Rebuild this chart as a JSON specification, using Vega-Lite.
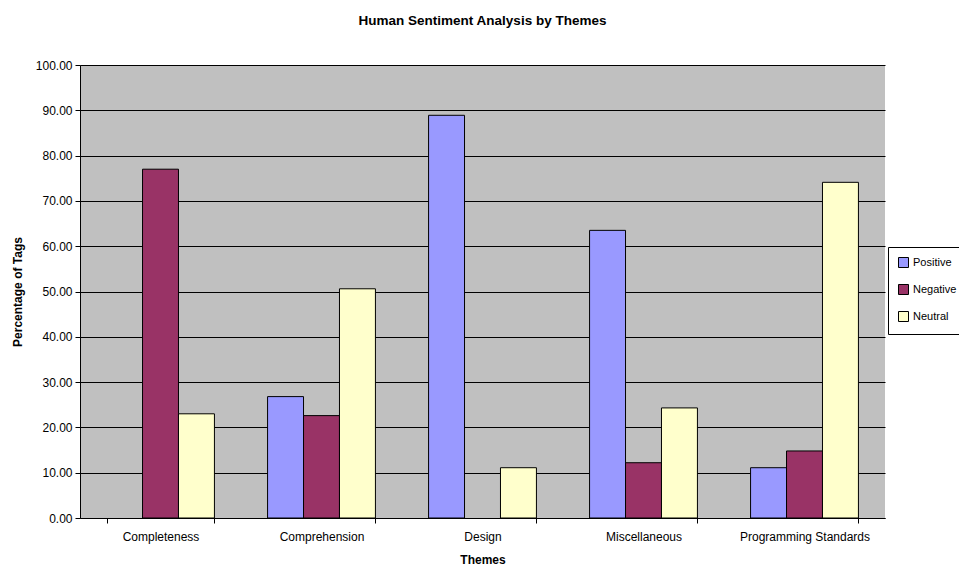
{
  "$schema": "https://vega.github.io/schema/vega-lite/v6.json",
  "width": 805,
  "height": 453,
  "autosize": {"type": "none"},
  "padding": {"left": 80, "top": 65, "right": 74, "bottom": 51},
  "background": "white",
  "config": {
    "font": "Liberation Sans",
    "view": {"fill": "#C0C0C0", "stroke": null}
  },
  "title": {
    "text": "Human Sentiment Analysis by Themes",
    "fontSize": 13.5,
    "fontWeight": "bold",
    "color": "black",
    "offset": 32,
    "anchor": "middle"
  },
  "data": {
    "values": [
      {"theme": "Completeness", "sentiment": "Positive", "value": 0},
      {"theme": "Completeness", "sentiment": "Negative", "value": 77.0},
      {"theme": "Completeness", "sentiment": "Neutral", "value": 23.0},
      {"theme": "Comprehension", "sentiment": "Positive", "value": 26.8},
      {"theme": "Comprehension", "sentiment": "Negative", "value": 22.6},
      {"theme": "Comprehension", "sentiment": "Neutral", "value": 50.6},
      {"theme": "Design", "sentiment": "Positive", "value": 88.9},
      {"theme": "Design", "sentiment": "Negative", "value": 0},
      {"theme": "Design", "sentiment": "Neutral", "value": 11.1},
      {"theme": "Miscellaneous", "sentiment": "Positive", "value": 63.5},
      {"theme": "Miscellaneous", "sentiment": "Negative", "value": 12.2},
      {"theme": "Miscellaneous", "sentiment": "Neutral", "value": 24.3},
      {"theme": "Programming Standards", "sentiment": "Positive", "value": 11.1},
      {"theme": "Programming Standards", "sentiment": "Negative", "value": 14.8},
      {"theme": "Programming Standards", "sentiment": "Neutral", "value": 74.1}
    ]
  },
  "transform": [{"filter": "datum.value > 0"}],
  "mark": {"type": "bar", "stroke": "black", "strokeWidth": 1},
  "encoding": {
    "x": {
      "field": "theme",
      "type": "nominal",
      "sort": null,
      "scale": {"paddingInner": 0.33, "paddingOuter": 0.165},
      "axis": {
        "title": "Themes",
        "titleFontSize": 12,
        "titleFontWeight": "bold",
        "titleColor": "black",
        "titlePadding": 12,
        "labelAngle": 0,
        "labelFontSize": 12,
        "labelColor": "black",
        "labelPadding": 8,
        "tickBand": "extent",
        "tickColor": "black",
        "tickSize": 5,
        "domainColor": "black",
        "grid": false
      }
    },
    "xOffset": {
      "field": "sentiment",
      "type": "nominal",
      "sort": ["Positive", "Negative", "Neutral"],
      "scale": {"domain": ["Positive", "Negative", "Neutral"], "paddingInner": 0, "paddingOuter": 0}
    },
    "y": {
      "field": "value",
      "type": "quantitative",
      "scale": {"domain": [0, 100], "nice": false},
      "axis": {
        "title": "Percentage of Tags",
        "titleFontSize": 12,
        "titleFontWeight": "bold",
        "titleColor": "black",
        "titlePadding": 11,
        "values": [0, 10, 20, 30, 40, 50, 60, 70, 80, 90, 100],
        "format": ".2f",
        "labelFontSize": 12,
        "labelColor": "black",
        "labelPadding": 3,
        "tickColor": "black",
        "tickSize": 5,
        "domainColor": "black",
        "grid": true,
        "gridColor": "black",
        "gridOpacity": 1,
        "gridWidth": 1
      }
    },
    "color": {
      "field": "sentiment",
      "type": "nominal",
      "sort": ["Positive", "Negative", "Neutral"],
      "scale": {
        "domain": ["Positive", "Negative", "Neutral"],
        "range": ["#9999FF", "#993366", "#FFFFCC"]
      },
      "legend": {
        "title": null,
        "orient": "none",
        "legendX": 808,
        "legendY": 182,
        "symbolType": "square",
        "symbolSize": 100,
        "symbolStrokeColor": "black",
        "symbolStrokeWidth": 1,
        "labelFontSize": 11,
        "labelColor": "black",
        "labelOffset": 4,
        "rowPadding": 12,
        "padding": 10,
        "strokeColor": "black",
        "fillColor": "white"
      }
    }
  }
}
